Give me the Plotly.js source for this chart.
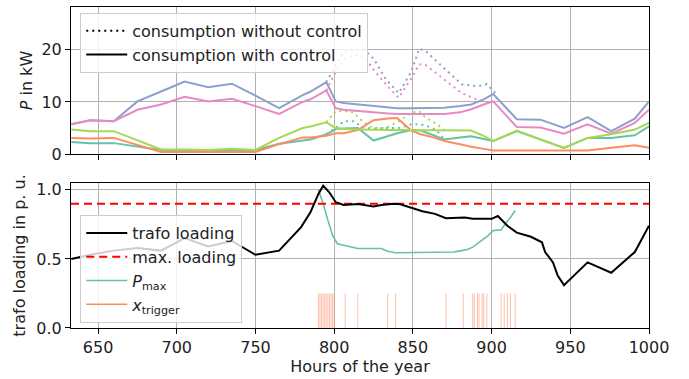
<!DOCTYPE html>
<html>
<head>
<meta charset="utf-8">
<script src="https://cdn.plot.ly/plotly-3.0.1.min.js"></script>
<style>html,body{margin:0;padding:0;background:#fff;}#chart{width:689px;height:379px;}</style>
</head>
<body>
<div id="chart"></div>
<script>
// ---------- data ----------
const hours = [633, 645, 660, 675, 690, 705, 720, 735, 750, 765, 780, 785, 795, 801, 806, 815, 825, 834, 840, 849, 855, 863, 870, 880, 887, 895, 901, 916, 931, 946, 961, 976, 991, 1000];
const tealCtrl   = [2.3, 2.1, 2.1, 1.5, 0.8, 0.8, 0.8, 0.9, 0.8, 2.0, 2.5, 2.8, 3.8, 4.8, 4.9, 5.0, 2.6, 3.4, 4.0, 4.6, 4.5, 3.6, 2.8, 3.2, 3.4, 2.9, 2.5, 4.4, 2.8, 1.2, 3.1, 3.1, 3.6, 5.3];
const orangeCtrl = [3.1, 3.0, 3.1, 1.7, 0.4, 0.4, 0.4, 0.4, 0.4, 1.9, 3.2, 3.2, 3.5, 4.0, 4.0, 4.6, 6.5, 6.8, 6.9, 4.5, 3.8, 3.2, 2.5, 1.9, 1.4, 1.0, 0.7, 0.7, 0.7, 0.7, 0.7, 1.2, 1.7, 1.2];
const blueCtrl   = [5.7, 6.5, 6.3, 10.1, 12.0, 13.9, 12.8, 13.5, 11.2, 8.8, 11.3, 12.0, 13.8, 10.1, 9.8, 9.5, 9.3, 9.0, 8.8, 8.8, 8.8, 8.9, 8.9, 9.2, 9.5, 10.5, 11.5, 6.7, 6.6, 5.0, 7.1, 4.4, 6.8, 10.1];
const pinkCtrl   = [5.7, 6.5, 6.3, 8.5, 9.5, 11.0, 10.1, 10.6, 9.2, 7.7, 10.0, 10.5, 12.2, 8.8, 8.5, 8.2, 8.0, 7.8, 7.7, 7.7, 7.7, 7.7, 7.7, 8.0, 8.6, 9.5, 10.1, 5.2, 5.1, 3.9, 5.7, 3.9, 6.0, 8.5];
const greenCtrl  = [4.7, 4.4, 4.4, 2.6, 0.9, 0.9, 0.8, 1.0, 0.8, 3.1, 5.0, 5.3, 6.1, 5.0, 4.8, 4.7, 4.6, 4.6, 4.6, 4.6, 4.6, 4.6, 4.6, 4.6, 4.5, 3.5, 2.5, 4.5, 2.8, 1.2, 3.1, 3.8, 4.7, 6.0];

const hoursNoCtrl = [795, 801, 806, 812, 819, 825, 833, 841, 849, 854, 858, 865, 870, 881, 891, 897, 903];
const tealNoCtrl  = [3.8, 5.0, 6.3, 6.3, 5.0, 4.9, 5.0, 5.0, 5.7, 5.7, 5.5, 4.6, 2.8, null, null, null, null];
const blueNoCtrl  = [13.8, 17.1, 19.6, 20.0, 20.0, 18.3, 14.3, 11.7, 15.8, 20.2, 19.8, 17.8, 16.4, 13.4, 13.0, 13.4, 11.5];
const pinkNoCtrl  = [12.2, 15.8, 18.0, 19.0, 18.7, 16.2, 13.3, 10.8, 14.5, 17.2, 17.1, 15.5, 14.3, 11.7, 10.4, 9.9, 10.1];
const greenNoCtrl = [6.1, 8.2, 8.3, 8.0, 6.0, 5.0, 5.0, 6.3, 7.9, 8.2, 7.0, 5.8, 4.6, null, null, null, null];

const loadHours = [633, 645, 660, 675, 690, 705, 720, 735, 750, 765, 779, 785, 790, 793, 797, 801, 806, 815, 825, 830, 838, 842, 849, 856, 864, 871, 883, 888, 900, 904, 910, 916, 925, 932, 934, 937, 939, 942, 946, 961, 976, 991, 1000];
const trafoLoading = [0.50, 0.53, 0.56, 0.578, 0.56, 0.65, 0.59, 0.63, 0.53, 0.56, 0.73, 0.84, 0.97, 1.03, 0.98, 0.91, 0.89, 0.897, 0.88, 0.89, 0.90, 0.895, 0.87, 0.845, 0.826, 0.795, 0.80, 0.79, 0.79, 0.81, 0.74, 0.69, 0.66, 0.62, 0.55, 0.50, 0.475, 0.38, 0.31, 0.475, 0.40, 0.55, 0.74];
const maxLoading = 0.9;

const pmaxHours = [790, 793, 796, 799, 802, 806, 808, 815, 830, 834, 839, 870, 876, 881, 885, 888, 891, 894, 898, 901, 906, 909, 912, 915];
const pmax      = [1.0, 0.90, 0.78, 0.67, 0.61, 0.60, 0.59, 0.575, 0.575, 0.556, 0.545, 0.545, 0.55, 0.56, 0.57, 0.585, 0.61, 0.63, 0.67, 0.705, 0.71, 0.76, 0.80, 0.85];

const triggerHours = [790, 791, 792, 793, 794, 795, 796, 797, 798, 799, 800, 807, 815, 834, 839, 871, 882, 888, 889, 891, 892, 894, 895, 897, 906, 908, 910, 912, 915];
const triggerValue = 0.25;

const xRange = [632.8, 1000];
const xTicks = [650, 700, 750, 800, 850, 900, 950, 1000];

// ---------- styles ----------
const C = {teal: '#66c2a5', orange: '#fc8d62', blue: '#8da0cb', pink: '#e78ac3', green: '#a6d854'};
const font = 'DejaVu Sans, Liberation Sans, sans-serif';
const dotDash = '2px,4px';
const FS = 16;

const traces = [];
// without control (dotted)
[['teal', tealNoCtrl], ['blue', blueNoCtrl], ['pink', pinkNoCtrl], ['green', greenNoCtrl]].forEach(([c, ys]) => {
  traces.push({x: hoursNoCtrl, y: ys, xaxis: 'x', yaxis: 'y', mode: 'lines', showlegend: false,
    line: {color: C[c], width: 2, dash: dotDash}, connectgaps: false, hoverinfo: 'skip'});
});
// with control (solid)
[['teal', tealCtrl], ['orange', orangeCtrl], ['blue', blueCtrl], ['pink', pinkCtrl], ['green', greenCtrl]].forEach(([c, ys]) => {
  traces.push({x: hours, y: ys, xaxis: 'x', yaxis: 'y', mode: 'lines', showlegend: false,
    line: {color: C[c], width: 2}, hoverinfo: 'skip'});
});
// legend proxies (top)
traces.push({x: [null], y: [null], xaxis: 'x', yaxis: 'y', mode: 'lines', name: 'consumption without control',
  line: {color: '#000', width: 2, dash: dotDash}, legend: 'legend'});
traces.push({x: [null], y: [null], xaxis: 'x', yaxis: 'y', mode: 'lines', name: 'consumption with control',
  line: {color: '#000', width: 2}, legend: 'legend'});

// bottom panel
const tx = [], ty = [];
triggerHours.forEach(h => { tx.push(h, h, null); ty.push(0, triggerValue, null); });
traces.push({x: tx, y: ty, xaxis: 'x2', yaxis: 'y2', mode: 'lines', showlegend: false,
  line: {color: 'rgba(252,141,98,0.55)', width: 1}, hoverinfo: 'skip'});
traces.push({x: pmaxHours, y: pmax, xaxis: 'x2', yaxis: 'y2', mode: 'lines', name: '<i>P</i><sub>max</sub>',
  line: {color: C.teal, width: 1.6}, legend: 'legend2', legendrank: 3});
traces.push({x: xRange, y: xRange.map(() => maxLoading), xaxis: 'x2', yaxis: 'y2', mode: 'lines', name: 'max. loading',
  line: {color: '#ff0000', width: 2, dash: '8px,5px'}, legend: 'legend2', legendrank: 2});
traces.push({x: loadHours, y: trafoLoading, xaxis: 'x2', yaxis: 'y2', mode: 'lines', name: 'trafo loading',
  line: {color: '#000', width: 2}, legend: 'legend2', legendrank: 1});
traces.push({x: [null], y: [null], xaxis: 'x2', yaxis: 'y2', mode: 'lines', name: '<i>x</i><sub>trigger</sub>',
  line: {color: C.orange, width: 1.6}, legend: 'legend2', legendrank: 4});

const axisCommon = {
  showline: true, mirror: true, linecolor: '#000', linewidth: 1,
  ticks: 'outside', ticklen: 5, tickcolor: '#000', tickwidth: 1,
  showgrid: true, gridcolor: '#b0b0b0', gridwidth: 1, zeroline: false,
  tickfont: {family: font, size: FS, color: '#222'}
};
const legendCommon = {
  bgcolor: 'rgba(255,255,255,0.8)', bordercolor: '#cccccc', borderwidth: 1,
  font: {family: font, size: FS, color: '#222'}, xanchor: 'left', yanchor: 'top', itemwidth: 41
};
const titleFont = {family: font, size: FS, color: '#222'};

const layout = {
  width: 689, height: 379,
  margin: {l: 71, r: 40, t: 5, b: 51},
  paper_bgcolor: '#fff', plot_bgcolor: '#fff',
  font: {family: font, color: '#222'},
  xaxis: Object.assign({}, axisCommon, {domain: [0, 1], anchor: 'y', range: xRange, tickvals: xTicks, showticklabels: false, matches: 'x2'}),
  yaxis: Object.assign({}, axisCommon, {domain: [0.5418, 1], anchor: 'x', range: [0, 28.2], tickvals: [0, 10, 20],
    title: {text: '<i>P</i> in kW', font: titleFont, standoff: 4}, automargin: true}),
  xaxis2: Object.assign({}, axisCommon, {domain: [0, 1], anchor: 'y2', range: xRange, tickvals: xTicks,
    title: {text: 'Hours of the year', font: titleFont, standoff: 4}, automargin: true}),
  yaxis2: Object.assign({}, axisCommon, {domain: [0, 0.452], anchor: 'x2', range: [0, 1.05], tickvals: [0, 0.5, 1.0], tickformat: '.1f',
    title: {text: 'trafo loading in p. u.', font: titleFont, standoff: 6}, automargin: true}),
  legend: Object.assign({}, legendCommon, {x: 0.016, y: 0.982}),
  legend2: Object.assign({}, legendCommon, {x: 0.016, y: 0.352}),
  showlegend: true
};

Plotly.newPlot('chart', traces, layout, {displayModeBar: false, staticPlot: true});
</script>
</body>
</html>
